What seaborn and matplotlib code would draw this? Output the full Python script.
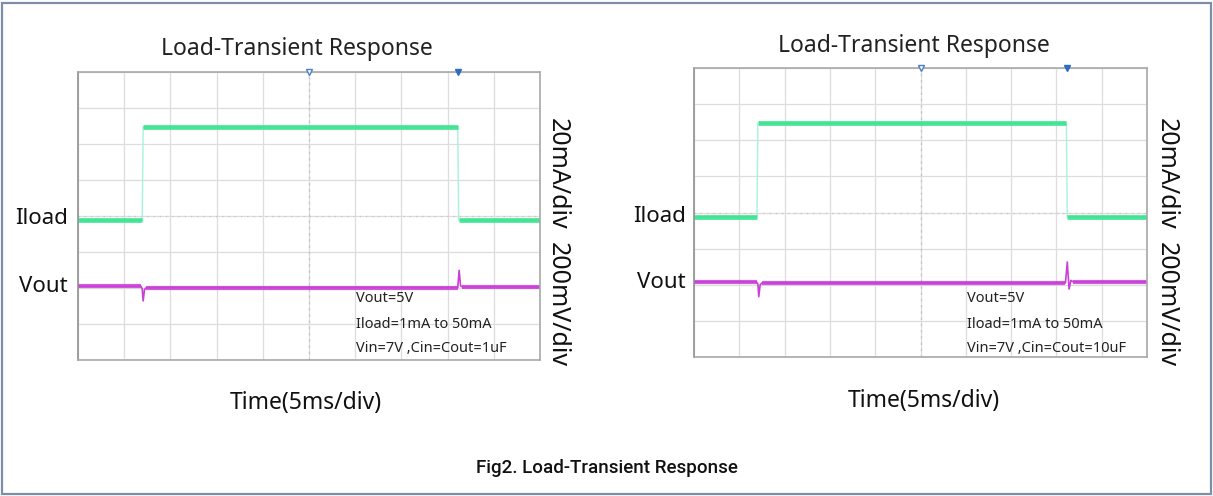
import matplotlib
matplotlib.use("Agg")
import matplotlib.pyplot as plt
from matplotlib.patches import Rectangle
import numpy as np
import pandas as pd
import seaborn as sns

# Oscilloscope traces, in screen divisions (10 x 8)
iload_t = [0.0, 1.39, 1.41, 8.22, 8.24, 10.0]
iload_v = [3.88, 3.88, 6.48, 6.48, 3.88, 3.88]

vout_t_1uf = [0.0, 1.36, 1.39, 1.41, 1.44, 1.48, 8.22, 8.25, 8.28, 8.32, 10.0]
vout_v_1uf = [2.05, 2.05, 1.98, 1.64, 1.96, 2.01, 2.01, 2.49, 2.06, 2.03, 2.03]

vout_t_10uf = [0.0, 1.38, 1.41, 1.43, 1.46, 1.50, 8.20, 8.24, 8.28, 8.32, 8.37, 10.0]
vout_v_10uf = [2.08, 2.08, 2.02, 1.67, 2.00, 2.05, 2.05, 2.63, 1.88, 2.12, 2.08, 2.08]

marker_t = [5.0, 8.23]

titles = ["Load-Transient Response", "Load-Transient Response"]
notes_1uf = ["Vout=5V", "Iload=1mA to 50mA", "Vin=7V ,Cin=Cout=1uF"]
notes_10uf = ["Vout=5V", "Iload=1mA to 50mA", "Vin=7V ,Cin=Cout=10uF"]

W, H = 1213, 496
GREEN = "#34e38c"
GREEN_EDGE = "#a8f2dc"
PURPLE = "#c93fd8"

sns.set_style("white")
plt.rcParams["font.family"] = ["Noto Sans", "DejaVu Sans"]


def fx(x):
    return x / W


def fy(y):
    return 1 - y / H


def scope(fig, box, vout_t, vout_v):
    """Draw one scope screen. box = (left, top, width, height) in pixels"""
    left, top, width, height = box
    ax = fig.add_axes([fx(left), fy(top + height), width / W, height / H])
    ax.set_xlim(0, 10)
    ax.set_ylim(0, 8)
    ax.set_xticks(np.arange(0, 11, 1))
    ax.set_yticks(np.arange(0, 9, 1))
    ax.grid(True, color="#dddddd", lw=0.9)
    ax.tick_params(length=0, labelbottom=False, labelleft=False)
    # centre lines with little division marks
    ax.axvline(5, color="#c4c4c4", lw=0.9, ls=(0, (2, 3)))
    ax.axhline(4, color="#c4c4c4", lw=0.9, ls=(0, (1, 4)))
    for side in ["top", "bottom", "right"]:
        ax.spines[side].set_color("#a8a8a8")
        ax.spines[side].set_linewidth(1.2)
    ax.spines["left"].set_color("#909090")
    ax.spines["left"].set_linewidth(1.2)

    df_i = pd.DataFrame({"t": iload_t, "v": iload_v})
    df_v = pd.DataFrame({"t": vout_t, "v": vout_v})

    # thin edges first, then thick flat levels
    sns.lineplot(data=df_i, x="t", y="v", ax=ax, color=GREEN_EDGE, lw=1.0,
                 sort=False, estimator=None)
    for k in range(len(df_i) - 1):
        if df_i["v"][k] == df_i["v"][k + 1]:
            ax.plot(df_i["t"][k:k + 2], df_i["v"][k:k + 2], color=GREEN,
                    lw=3.4, solid_capstyle="butt", alpha=0.9)
    sns.lineplot(data=df_v, x="t", y="v", ax=ax, color=PURPLE, lw=1.2,
                 sort=False, estimator=None)
    # noisy flat parts of the Vout trace look thicker
    for k in range(len(df_v) - 1):
        if abs(df_v["v"][k] - df_v["v"][k + 1]) < 0.1 and df_v["t"][k + 1] - df_v["t"][k] > 0.5:
            ax.plot(df_v["t"][k:k + 2], df_v["v"][k:k + 2], color=PURPLE,
                    lw=3.0, solid_capstyle="butt", alpha=0.85)

    ax.plot(marker_t[0], 8, marker="v", ms=5, mfc="white", mec="#4a7fc4",
            clip_on=False, zorder=5)
    ax.plot(marker_t[1], 8, marker="v", ms=5, color="#2d6cc0",
            clip_on=False, zorder=5)
    ax.set_xlabel("")
    ax.set_ylabel("")
    return ax


fig = plt.figure(figsize=(W / 100, H / 100), dpi=100)

# outer frame
fig.patches.append(Rectangle((fx(2), fy(494)), 1209 / W, 491 / H,
                             transform=fig.transFigure, fill=False,
                             edgecolor="#7d8fa6", lw=1.6))

scope(fig, (78, 72, 462, 288), vout_t_1uf, vout_v_1uf)
scope(fig, (694, 68, 453, 289), vout_t_10uf, vout_v_10uf)

big = 16.5
fig.text(fx(297), fy(49), titles[0], fontsize=big, ha="center", va="center", color="#222222")
fig.text(fx(914), fy(46), titles[1], fontsize=big, ha="center", va="center", color="#222222")

for xr, yi, yv in [(68, 219, 287), (686, 217, 282)]:
    fig.text(fx(xr), fy(yi), "Iload", fontsize=16, ha="right", va="center", color="#111111")
    fig.text(fx(xr), fy(yv), "Vout", fontsize=16, ha="right", va="center", color="#111111")

for xl in [557, 1166]:
    fig.text(fx(xl), fy(174), "20mA/div", fontsize=18, rotation=-90,
             ha="center", va="center", color="#111111")
    fig.text(fx(xl), fy(305), "200mV/div", fontsize=18, rotation=-90,
             ha="center", va="center", color="#111111")

for xl, notes in [(356, notes_1uf), (967, notes_10uf)]:
    for yy, line in zip([299, 324, 349], notes):
        fig.text(fx(xl), fy(yy), line, fontsize=10.5, ha="left", va="center",
                 color="#222222")

fig.text(fx(306), fy(403), "Time(5ms/div)", fontsize=big, ha="center", va="center", color="#111111")
fig.text(fx(924), fy(401), "Time(5ms/div)", fontsize=big, ha="center", va="center", color="#111111")

fig.text(fx(607), fy(468), "Fig2. Load-Transient Response", fontsize=13.5,
         fontfamily=["Roboto", "DejaVu Sans"], fontweight="medium",
         ha="center", va="center", color="#111111")

fig.savefig("out.png", dpi=100)
